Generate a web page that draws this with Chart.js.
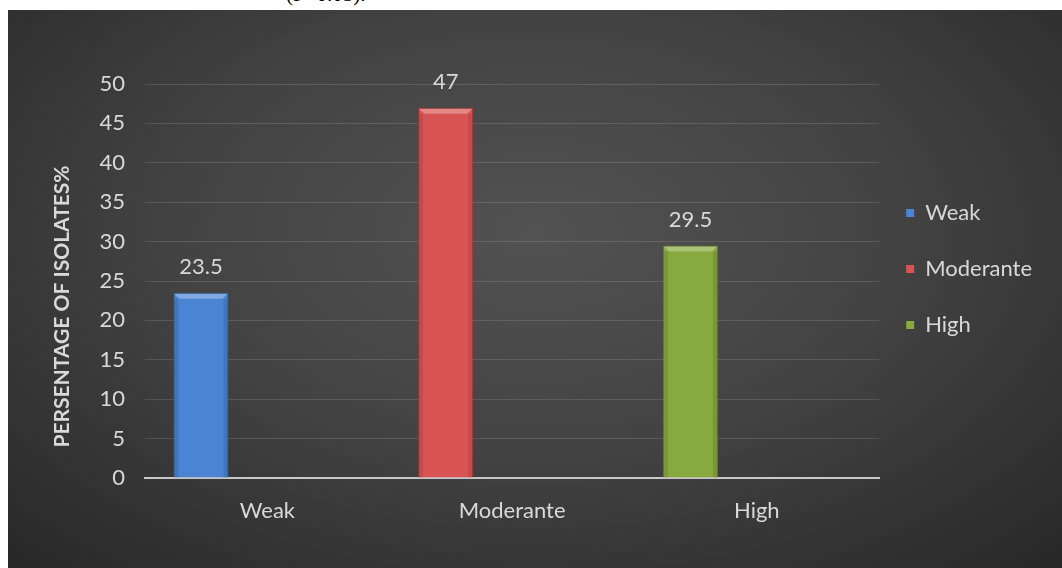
<!DOCTYPE html>
<html>
<head>
<meta charset="utf-8">
<script src="https://cdn.jsdelivr.net/npm/chart.js@4/dist/chart.umd.min.js"></script>
<style>
  html, body { margin: 0; padding: 0; background: #ffffff; width: 1062px; height: 568px; overflow: hidden; }
  #note { position: absolute; left: 286px; top: -18px; font-family: "Liberation Serif", serif; font-size: 21px; color: #000; }
  #wrap { position: absolute; left: 8px; top: 10px; width: 1054px; height: 558px;
    background: radial-gradient(ellipse 75% 85% at 50% 40%, #525252 0%, #434343 45%, #2e2e2e 85%, #262626 100%); }
  canvas { display: block; }
</style>
</head>
<body>
<div id="note">(P&lt;0.05).</div>
<div id="wrap"><canvas id="c" width="1054" height="558"></canvas></div>
<script>
const categories = ["Weak", "Moderante", "High"];
const values = [23.5, 47, 29.5];
const legendLabels = ["Weak", "Moderante", "High"];
const yTicks = [0, 5, 10, 15, 20, 25, 30, 35, 40, 45, 50];
const colors = ["#4a84d2", "#d85454", "#87a93d"];
const borders = ["#2f5f9e", "#9e3434", "#5f7a26"];

const FONT = "Lato";
const textColor = "#d9d9d9";

const bevel = {
  id: "bevel",
  afterDatasetsDraw(chart) {
    const ctx = chart.ctx;
    const meta = chart.getDatasetMeta(0);
    ctx.save();
    meta.data.forEach((bar) => {
      const l = bar.x - bar.width / 2, r = bar.x + bar.width / 2, t = bar.y, b = bar.base;
      const d = 6;
      ctx.fillStyle = "rgba(255,255,255,0.30)";
      ctx.beginPath();
      ctx.moveTo(l + 1, t + 1); ctx.lineTo(r - 1, t + 1); ctx.lineTo(r - d, t + d); ctx.lineTo(l + d, t + d);
      ctx.closePath(); ctx.fill();
      ctx.fillStyle = "rgba(0,0,0,0.10)";
      ctx.fillRect(l + 1, t + d, 4, b - t - d);
      ctx.fillRect(r - 5, t + d, 4, b - t - d);
    });
    ctx.restore();
  }
};

const legendShift = {
  id: "legendShift",
  afterLayout(chart) {
    const lg = chart.legend;
    if (lg) { lg.left -= 7; lg.right -= 7; }
  }
};

const dataLabels = {
  id: "dataLabels",
  afterDatasetsDraw(chart) {
    const ctx = chart.ctx;
    const meta = chart.getDatasetMeta(0);
    ctx.save();
    ctx.font = "22px " + FONT;
    ctx.fillStyle = textColor;
    ctx.textAlign = "center";
    ctx.textBaseline = "bottom";
    meta.data.forEach((bar, i) => {
      ctx.fillText(String(values[i]), bar.x, bar.y - 15);
    });
    ctx.restore();
  }
};

new Chart(document.getElementById("c"), {
  type: "bar",
  data: {
    labels: categories,
    datasets: [
      { label: "Weak", data: values, backgroundColor: colors, borderColor: borders, borderWidth: 1 },
      { label: "s2", data: [null, null, null] },
      { label: "s3", data: [null, null, null] }
    ]
  },
  options: {
    responsive: false,
    animation: false,
    devicePixelRatio: 1,
    categoryPercentage: 0.814,
    barPercentage: 0.83,
    layout: { padding: { left: 0, right: 13, top: 74, bottom: 0 } },
    plugins: {
      tooltip: { enabled: false },
      legend: {
        position: "right",
        align: "start",
        title: { display: true, text: " ", font: { size: 10 }, padding: { top: 72, bottom: 0 } },
        labels: {
          color: textColor,
          font: { family: FONT, size: 22 },
          boxWidth: 8,
          boxHeight: 8,
          padding: 34,
          generateLabels() {
            return legendLabels.map((l, i) => ({
              text: l, fillStyle: colors[i], strokeStyle: colors[i], lineWidth: 0,
              fontColor: textColor, hidden: false, datasetIndex: 0
            }));
          }
        }
      }
    },
    scales: {
      x: {
        grid: { display: false, drawTicks: false },
        border: { display: true, color: "#c8c8c8", width: 2 },
        ticks: { color: textColor, font: { family: FONT, size: 22 }, padding: 20 },
        afterFit(s) { s.height = 90; }
      },
      y: {
        min: 0, max: 50,
        afterBuildTicks(s) { s.ticks = yTicks.map(v => ({ value: v })); },
        grid: { color: "rgba(255,255,255,0.13)", lineWidth: 1, drawTicks: false },
        border: { display: false },
        ticks: { color: textColor, font: { family: FONT, size: 22 }, padding: 20 },
        title: {
          display: true,
          text: "PERSENTAGE OF ISOLATES%          ",
          color: textColor,
          font: { family: FONT, size: 21, weight: "bold" },
          padding: { top: 42, bottom: 0 }
        },
        afterFit(s) { s.width = 137; }
      }
    }
  },
  plugins: [legendShift, bevel, dataLabels]
});
</script>
</body>
</html>
